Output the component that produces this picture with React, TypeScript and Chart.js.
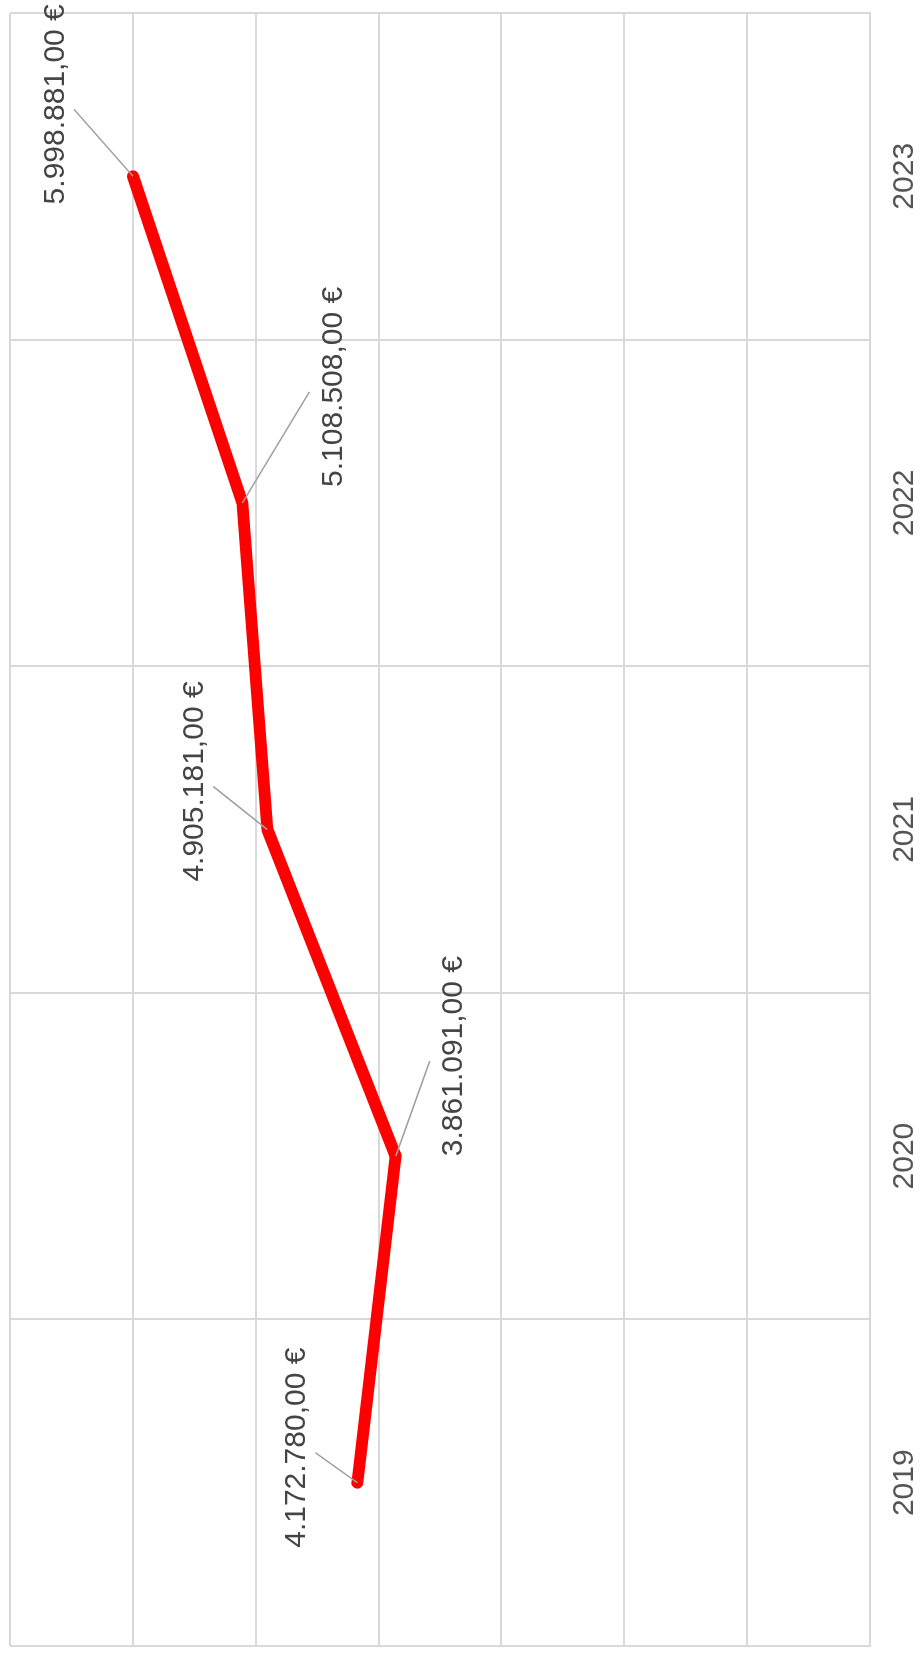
import React, { useEffect, useRef } from 'react';
import { Chart, registerables } from 'chart.js';

Chart.register(...registerables);

// ---- data ----
const years: string[] = ['2019', '2020', '2021', '2022', '2023'];
const revenue: number[] = [4172780, 3861091, 4905181, 5108508, 5998881];
const valueAxisMin = 0;
const valueAxisMax = 7000000;
const valueAxisStep = 1000000;

// ---- label layout (leader line end relative to point, in chart px) ----
const labelLeaderOffsets: [number, number][] = [
  [30, -42],
  [95, 34],
  [43, -54],
  [111, 67],
  [67, -59],
];

const FONT = "'Liberation Sans', Arial, sans-serif";
const W = 1655;
const H = 940;

function formatEuro(v: number): string {
  const [int, dec] = v.toFixed(2).split('.');
  const withDots = int.replace(/\B(?=(\d{3})+(?!\d))/g, '.');
  return withDots + ',' + dec + ' €';
}

const leaderLabelPlugin = {
  id: 'leaderLabels',
  afterDatasetsDraw(chart: any) {
    const ctx = chart.ctx as CanvasRenderingContext2D;
    const meta = chart.getDatasetMeta(0);
    ctx.save();
    meta.data.forEach((pt: any, i: number) => {
      const [dx, dy] = labelLeaderOffsets[i];
      const ex = pt.x + dx;
      const ey = pt.y + dy;
      ctx.beginPath();
      ctx.moveTo(pt.x, pt.y);
      ctx.lineTo(ex, ey);
      ctx.strokeStyle = '#a0a0a0';
      ctx.lineWidth = 1.6;
      ctx.stroke();
      ctx.font = `30px ${FONT}`;
      ctx.fillStyle = '#444444';
      ctx.textAlign = 'center';
      ctx.textBaseline = 'alphabetic';
      const txt = formatEuro(revenue[i]);
      const ty = dy < 0 ? ey - 10 : ey + 32.5;
      ctx.fillText(txt, ex + 5, ty);
    });
    ctx.restore();
  },
};

export default function App() {
  const canvasRef = useRef<HTMLCanvasElement | null>(null);

  useEffect(() => {
    if (!canvasRef.current) return;
    const gridColor = '#d9d9d9';
    const chart = new Chart(canvasRef.current, {
      type: 'line',
      data: {
        labels: years,
        datasets: [
          {
            data: revenue,
            borderColor: '#ff0000',
            backgroundColor: '#ff0000',
            borderWidth: 12,
            borderCapStyle: 'round',
            borderJoinStyle: 'round',
            pointRadius: 0,
            pointHoverRadius: 0,
            tension: 0,
            fill: false,
          },
        ],
      },
      options: {
        animation: false,
        responsive: false,
        maintainAspectRatio: false,
        devicePixelRatio: 1,
        layout: { padding: { left: 9, right: 13, top: 10, bottom: 0 } },
        plugins: {
          legend: { display: false },
          tooltip: { enabled: false },
          title: { display: false },
        },
        scales: {
          x: {
            offset: true,
            grid: { offset: true, color: gridColor, lineWidth: 2, drawTicks: false },
            border: { display: true, color: gridColor, width: 2 },
            ticks: {
              font: { family: FONT, size: 30, lineHeight: 1 },
              color: '#555555',
              padding: 20,
              maxRotation: 0,
              minRotation: 0,
            },
          },
          y: {
            min: valueAxisMin,
            max: valueAxisMax,
            ticks: { display: false, stepSize: valueAxisStep },
            grid: { color: gridColor, lineWidth: 2, drawTicks: false },
            border: { display: false },
          },
        },
      },
      plugins: [leaderLabelPlugin],
    } as any);
    return () => chart.destroy();
  }, []);

  return (
    <div
      style={{
        position: 'absolute',
        left: 0,
        top: 0,
        width: 920,
        height: 1655,
        overflow: 'hidden',
        background: '#ffffff',
      }}
    >
      <div
        style={{
          position: 'absolute',
          left: 0,
          top: 0,
          width: W,
          height: H,
          transformOrigin: '0 0',
          transform: `translate(0px, ${W}px) rotate(-90deg)`,
        }}
      >
        <canvas ref={canvasRef} width={W} height={H} style={{ display: 'block', width: W, height: H }} />
      </div>
    </div>
  );
}
